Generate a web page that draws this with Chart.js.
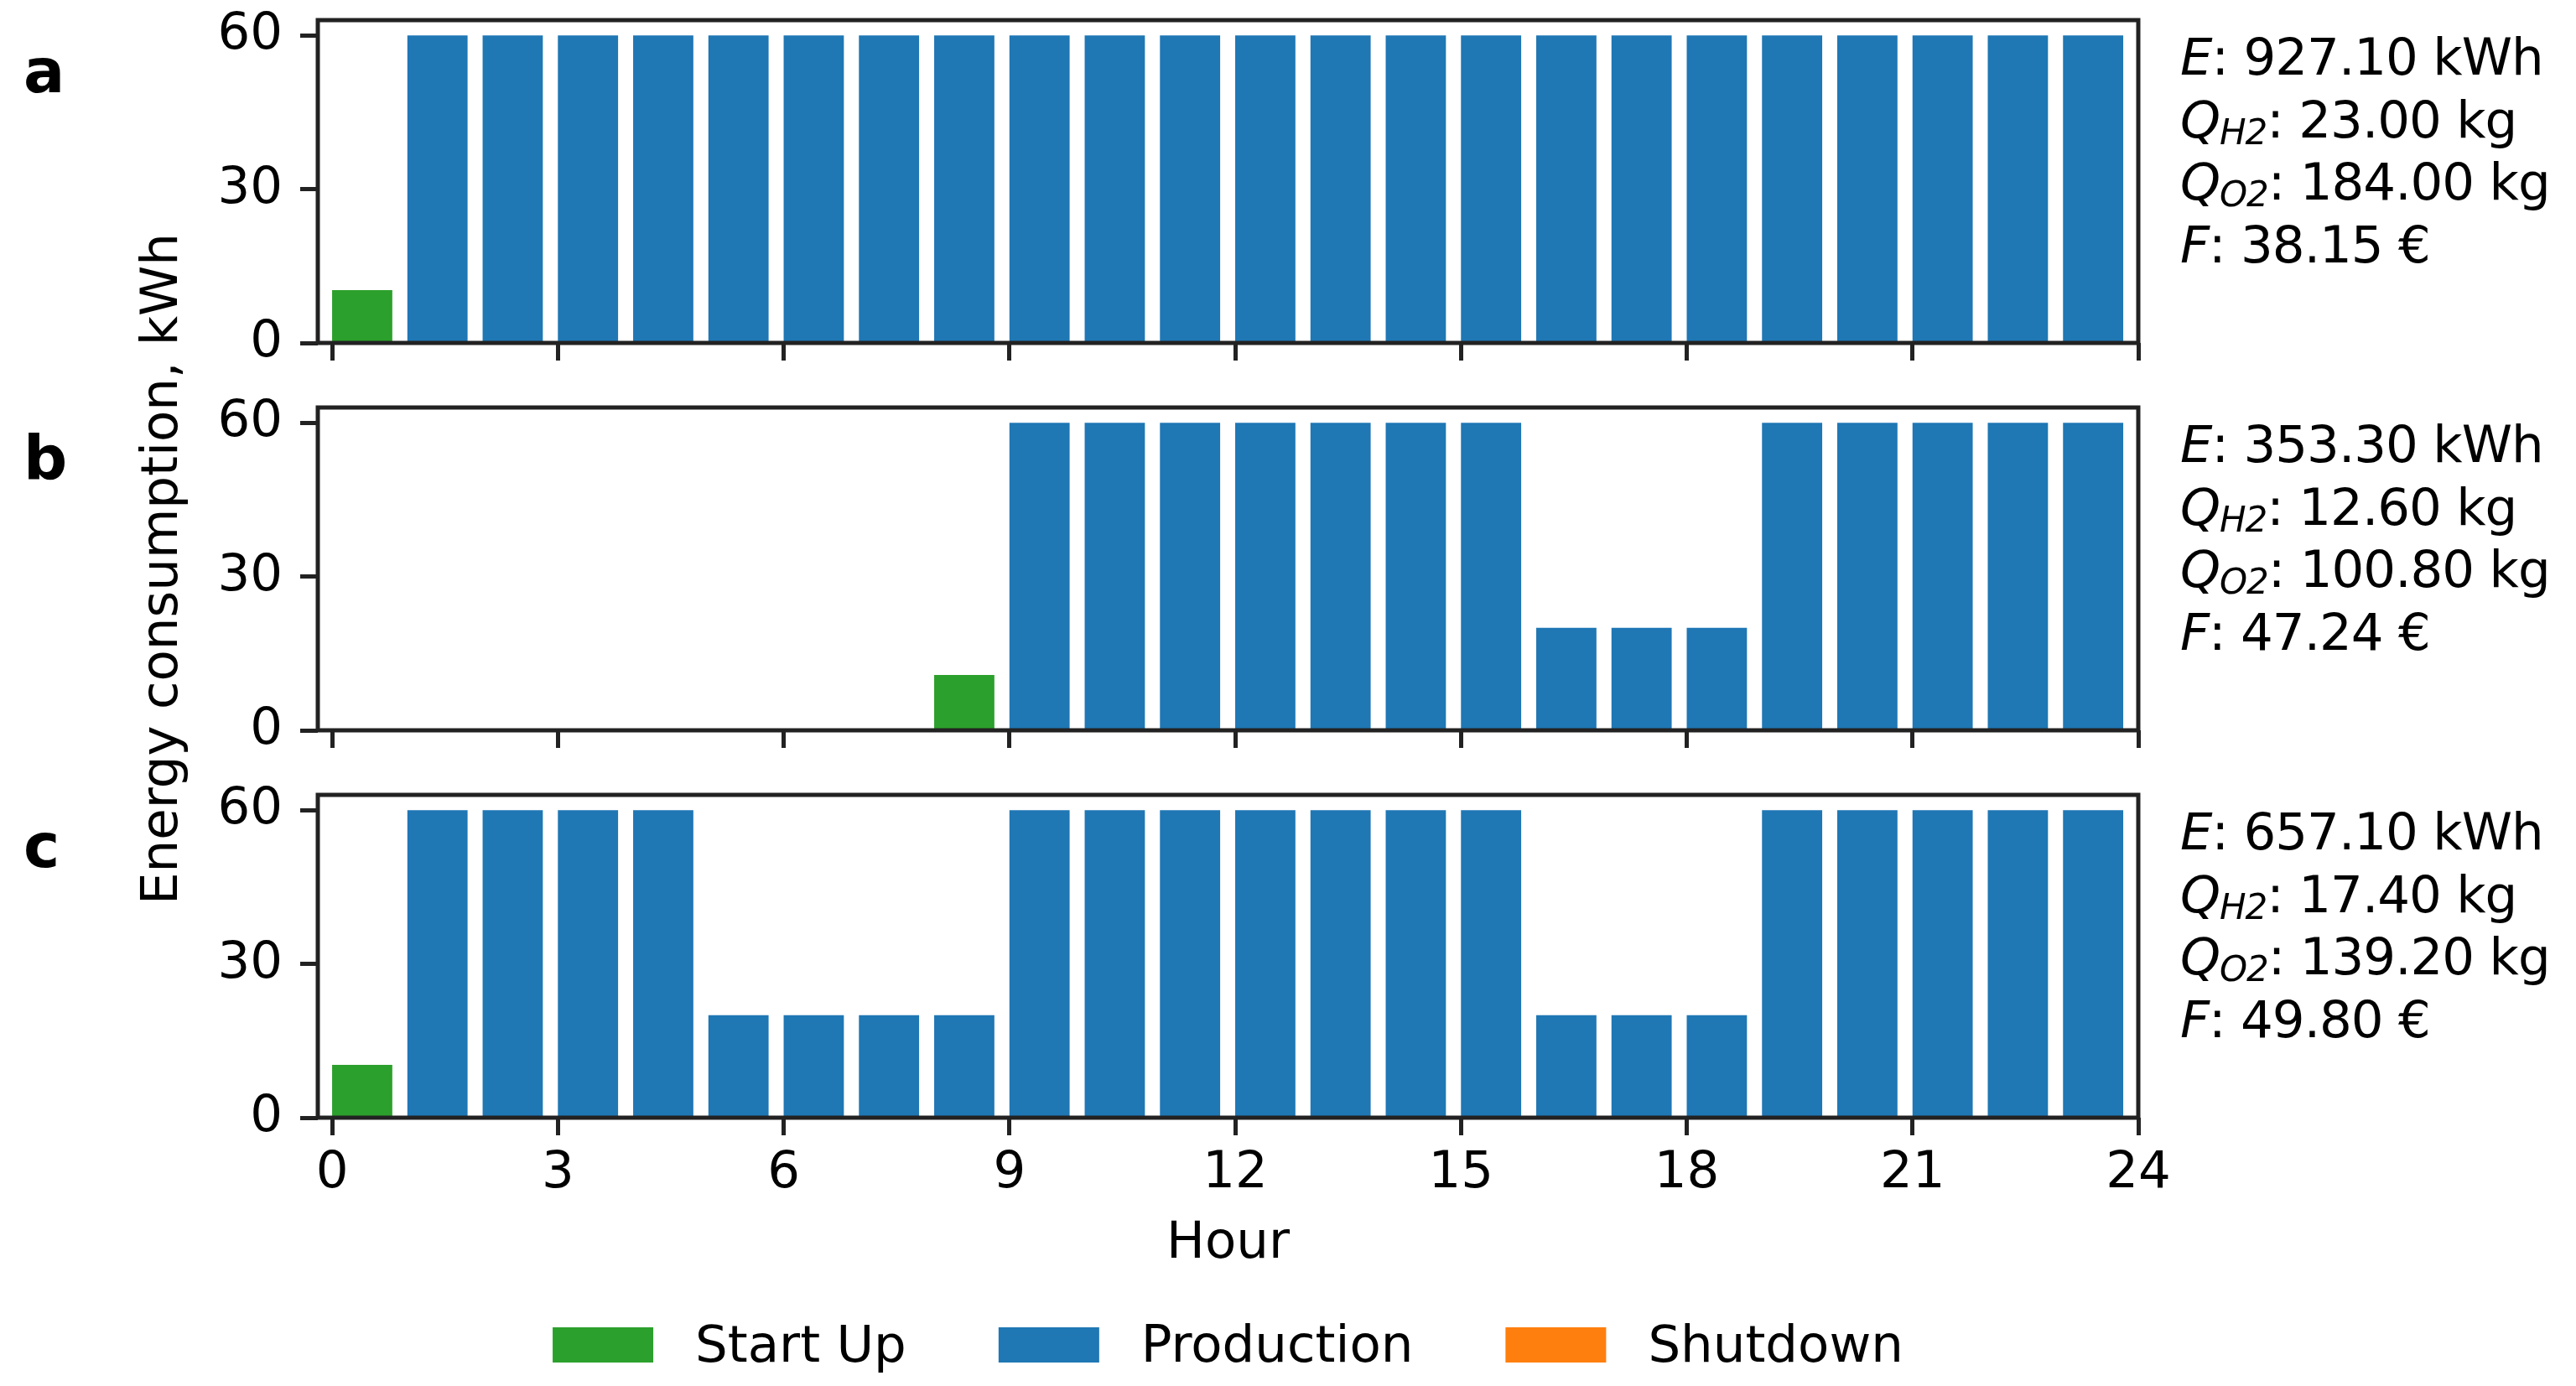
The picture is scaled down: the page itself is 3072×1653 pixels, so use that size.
<!DOCTYPE html>
<html>
<head>
<meta charset="utf-8">
<title>Energy consumption per hour</title>
<script src="https://cdn.jsdelivr.net/npm/chart.js@4.4.1/dist/chart.umd.min.js"></script>
<style>
  html, body { margin: 0; padding: 0; background: #fff; overflow: hidden; }
  #wrap { position: relative; width: 3072px; height: 1653px; }
  #wrap canvas { position: absolute; left: 0; top: 0; }
</style>
</head>
<body>
<div id="wrap">
  <canvas id="panelA" width="3072" height="1653"></canvas>
  <canvas id="panelB" width="3072" height="1653"></canvas>
  <canvas id="panelC" width="3072" height="1653"></canvas>
</div>
<script>
// hour slots (bars start at the hour)
const hours = [0, 1, 2, 3, 4, 5, 6, 7, 8, 9, 10, 11, 12, 13, 14, 15, 16, 17, 18, 19, 20, 21, 22, 23];
const xTicks = [0, 3, 6, 9, 12, 15, 18, 21, 24];
const yTicks = [0, 30, 60];
const panelLetters = ['a', 'b', 'c'];
const seriesNames = ['Start Up', 'Production', 'Shutdown'];

// scenario a
const startUpA    = [10.3, null, null, null, null, null, null, null, null, null, null, null, null, null, null, null, null, null, null, null, null, null, null, null];
const productionA = [null, 60, 60, 60, 60, 60, 60, 60, 60, 60, 60, 60, 60, 60, 60, 60, 60, 60, 60, 60, 60, 60, 60, 60];
const shutdownA   = [null, null, null, null, null, null, null, null, null, null, null, null, null, null, null, null, null, null, null, null, null, null, null, null];

// scenario b
const startUpB    = [null, null, null, null, null, null, null, null, 10.8, null, null, null, null, null, null, null, null, null, null, null, null, null, null, null];
const productionB = [null, null, null, null, null, null, null, null, null, 60, 60, 60, 60, 60, 60, 60, 20, 20, 20, 60, 60, 60, 60, 60];
const shutdownB   = [null, null, null, null, null, null, null, null, null, null, null, null, null, null, null, null, null, null, null, null, null, null, null, null];

// scenario c
const startUpC    = [10.3, null, null, null, null, null, null, null, null, null, null, null, null, null, null, null, null, null, null, null, null, null, null, null];
const productionC = [null, 60, 60, 60, 60, 20, 20, 20, 20, 60, 60, 60, 60, 60, 60, 60, 20, 20, 20, 60, 60, 60, 60, 60];
const shutdownC   = [null, null, null, null, null, null, null, null, null, null, null, null, null, null, null, null, null, null, null, null, null, null, null, null];

// summary numbers next to each panel
const energyKWh = [927.10, 353.30, 657.10];
const h2Kg      = [23.00, 12.60, 17.40];
const o2Kg      = [184.00, 100.80, 139.20];
const costEur   = [38.15, 47.24, 49.80];

const colors = ['#2ca02c', '#1f77b4', '#ff7f0e'];

// layout (px)
const FIG_W = 3072, FIG_H = 1653;
const plotLeft = 379, plotRight = 2550, plotHeight = 385;
const panelTops = [24, 486, 948];
const xAxisBox = 130;
const FONT = '"DejaVu Sans"';
const INK = '#222';

Chart.defaults.font.family = FONT;
Chart.defaults.color = '#000';

function toPoints(values) {
    // bars are edge aligned: [h, h + 0.8]
    return hours.map((h, i) => ({ x: h + 0.4, y: values[i] }));
}

const framePlugin = {
    id: 'frame',
    afterDatasetsDraw(chart) {
        const { ctx, chartArea: a } = chart;
        ctx.save();
        ctx.strokeStyle = INK;
        ctx.lineWidth = 5;
        ctx.strokeRect(a.left, a.top, a.right - a.left, a.bottom - a.top);
        ctx.restore();
    }
};

function drawRich(ctx, x, y, parts) {
    let cx = x;
    for (const p of parts) {
        const size = p.sub ? 42 : 61;
        ctx.font = (p.it ? 'italic ' : '') + size + 'px ' + FONT;
        ctx.fillText(p.t, cx, y + (p.sub ? 8 : 0));
        cx += ctx.measureText(p.t).width;
    }
}

const textPlugin = {
    id: 'panelText',
    afterDraw(chart, args, opts) {
        const { ctx, chartArea: a } = chart;
        const i = opts.index;
        ctx.save();
        ctx.fillStyle = '#000';
        ctx.textBaseline = 'alphabetic';
        ctx.textAlign = 'left';

        // panel letter
        ctx.font = 'bold 73px ' + FONT;
        ctx.fillText(panelLetters[i], 28, a.top + 86);

        // summary block
        const lines = [
            [{ t: 'E', it: 1 }, { t: ': ' + energyKWh[i].toFixed(2) + ' kWh' }],
            [{ t: 'Q', it: 1 }, { t: 'H2', it: 1, sub: 1 }, { t: ': ' + h2Kg[i].toFixed(2) + ' kg' }],
            [{ t: 'Q', it: 1 }, { t: 'O2', it: 1, sub: 1 }, { t: ': ' + o2Kg[i].toFixed(2) + ' kg' }],
            [{ t: 'F', it: 1 }, { t: ': ' + costEur[i].toFixed(2) + ' \u20ac' }]
        ];
        ctx.save();
        ctx.letterSpacing = '-1px';
        lines.forEach((parts, k) => drawRich(ctx, a.right + 50, a.top + 65 + k * 74.7, parts));
        ctx.restore();

        if (opts.last) {
            const cx = (a.left + a.right) / 2;
            ctx.font = '61px ' + FONT;
            ctx.textAlign = 'center';
            ctx.fillText('Hour', cx, a.bottom + 167);

            // shared y title
            ctx.save();
            ctx.translate(211, (panelTops[0] + a.bottom) / 2);
            ctx.rotate(-Math.PI / 2);
            ctx.fillText('Energy consumption, kWh', 0, 0);
            ctx.restore();

            // legend
            ctx.textAlign = 'left';
            const boxW = 120, boxH = 42, textGap = 50, colGap = 110;
            const widths = chart.data.datasets.map(d => ctx.measureText(d.label).width);
            const total = widths.reduce((s, w) => s + boxW + textGap + w, 0) + colGap * (widths.length - 1);
            let x = cx - total / 2;
            const boxTop = a.bottom + 250;
            chart.data.datasets.forEach((d, k) => {
                ctx.fillStyle = d.backgroundColor;
                ctx.fillRect(x, boxTop, boxW, boxH);
                ctx.fillStyle = '#000';
                ctx.fillText(d.label, x + boxW + textGap, boxTop + 41);
                x += boxW + textGap + widths[k] + colGap;
            });
        }
        ctx.restore();
    }
};

function makePanel(canvasId, index, startUp, production, shutdown) {
    const top = panelTops[index];
    const bottom = top + plotHeight;
    const last = index === panelTops.length - 1;
    const series = [startUp, production, shutdown];
    const tickGrid = {
        display: true,
        drawOnChartArea: false,
        drawTicks: true,
        offset: false,
        tickLength: 21,
        tickWidth: 5,
        tickColor: INK
    };
    return new Chart(document.getElementById(canvasId), {
        type: 'bar',
        data: {
            datasets: series.map((s, k) => ({
                label: seriesNames[k],
                data: toPoints(s),
                backgroundColor: colors[k],
                borderWidth: 0
            }))
        },
        options: {
            responsive: false,
            animation: false,
            events: [],
            layout: {
                padding: { left: 0, top: top, right: FIG_W - plotRight, bottom: FIG_H - bottom - xAxisBox }
            },
            datasets: {
                bar: { grouped: false, categoryPercentage: 1, barPercentage: 0.8 }
            },
            scales: {
                x: {
                    type: 'linear',
                    offset: false,
                    min: -0.19,
                    max: 24,
                    afterBuildTicks: s => { s.ticks = xTicks.map(v => ({ value: v })); },
                    afterFit: s => {
                        s.height = xAxisBox;
                        s.paddingLeft = 0; s.paddingRight = 0; s.paddingTop = 0; s.paddingBottom = 0;
                    },
                    grid: tickGrid,
                    border: { display: false },
                    ticks: {
                        display: last,
                        autoSkip: false,
                        maxRotation: 0,
                        padding: 16,
                        color: '#000',
                        font: { size: 61, lineHeight: 1 }
                    }
                },
                y: {
                    min: 0,
                    max: 63,
                    afterBuildTicks: s => { s.ticks = yTicks.map(v => ({ value: v })); },
                    afterFit: s => {
                        s.width = plotLeft;
                        s.paddingLeft = 0; s.paddingRight = 0; s.paddingTop = 0; s.paddingBottom = 0;
                    },
                    grid: tickGrid,
                    border: { display: false },
                    ticks: {
                        autoSkip: false,
                        padding: 21,
                        color: '#000',
                        font: { size: 61, lineHeight: 1 }
                    }
                }
            },
            plugins: {
                legend: { display: false },
                tooltip: { enabled: false },
                panelText: { index: index, last: last }
            }
        },
        plugins: [framePlugin, textPlugin]
    });
}

makePanel('panelA', 0, startUpA, productionA, shutdownA);
makePanel('panelB', 1, startUpB, productionB, shutdownB);
makePanel('panelC', 2, startUpC, productionC, shutdownC);
</script>
</body>
</html>
